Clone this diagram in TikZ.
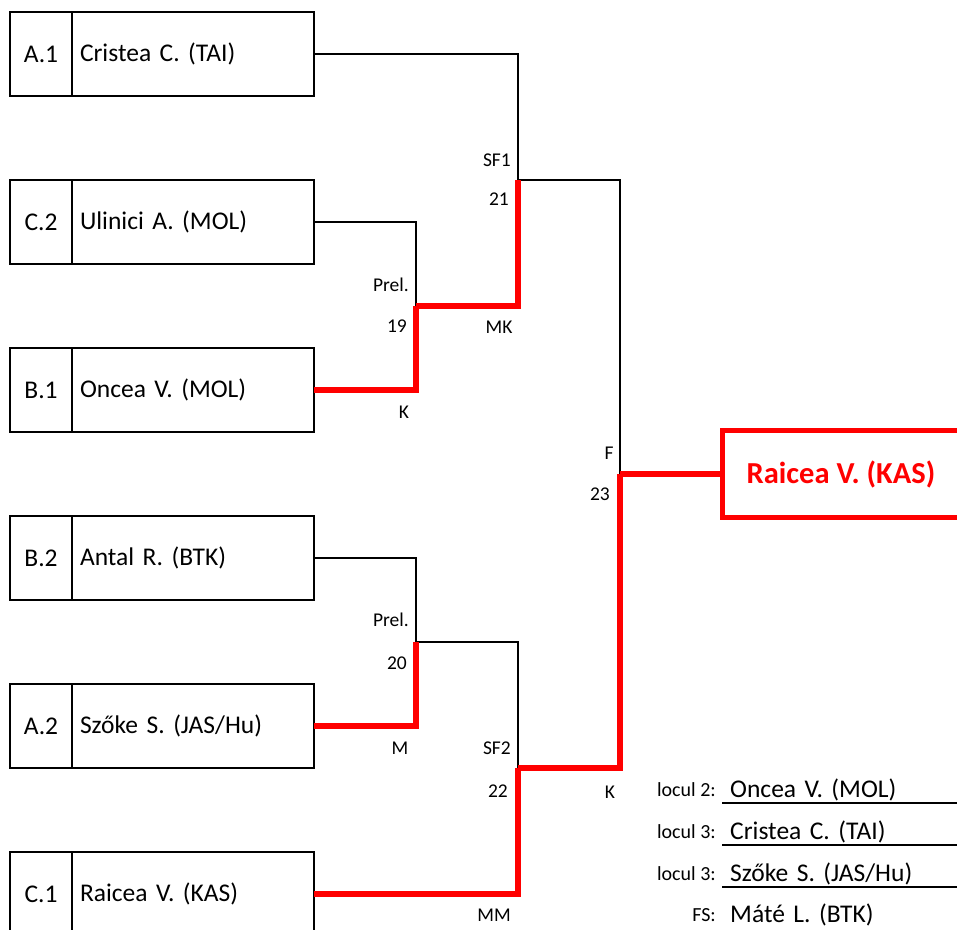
\documentclass[tikz,border=0pt]{standalone}
\usepackage{fontspec}
\setmainfont{Carlito}
\usepackage{xcolor}
\usepackage{tikz}
\usetikzlibrary{positioning}
\definecolor{winred}{RGB}{255,0,0}

\begin{document}
\begin{tikzpicture}[x=1pt, y=-1pt,
    seed/.style={draw, line width=1.6pt, outer sep=0pt, minimum width=62pt, minimum height=84pt, inner sep=0pt, font=\fontsize{25.5}{30}\selectfont},
    player/.style={draw, line width=1.6pt, outer sep=0pt, minimum height=84pt, text width=226pt, inner xsep=8pt, align=left, font=\fontsize{25.5}{30}\selectfont},
    lbl/.style={inner sep=0pt, font=\fontsize{19.5}{22}\selectfont},
    lost/.style={line width=1.4pt},
    won/.style={line width=5.5pt, winred},
    placed/.style={inner sep=0pt, font=\fontsize{20}{24}\selectfont},
    placename/.style={minimum width=235pt, inner xsep=8pt, anchor=west, text width=219pt, align=left, font=\fontsize{25.5}{30}\selectfont}]
      \useasboundingbox (0,0) rectangle (957,929);
      \clip (0,0) rectangle (957,929);

      % first round boxes
      \node (A1s) [seed] at (41,54) {A.1};
      \node (A1) [player, right=0pt of A1s] {Cristea C. (TAI)};
      \node (C2s) [seed] at (41,222) {C.2};
      \node (C2) [player, right=0pt of C2s] {Ulinici A. (MOL)};
      \node (B1s) [seed] at (41,390) {B.1};
      \node (B1) [player, right=0pt of B1s] {Oncea V. (MOL)};
      \node (B2s) [seed] at (41,558) {B.2};
      \node (B2) [player, right=0pt of B2s] {Antal R. (BTK)};
      \node (A2s) [seed] at (41,726) {A.2};
      \node (A2) [player, right=0pt of A2s] {Sz\H{o}ke S. (JAS/Hu)};
      \node (C1s) [seed] at (41,894) {C.1};
      \node (C1) [player, right=0pt of C1s] {Raicea V. (KAS)};

      % winner
      \node (Win) [draw=winred, line width=5pt, outer sep=0pt, minimum width=238pt, minimum height=87pt, text=winred, font=\fontsize{30.5}{34}\selectfont\bfseries] at (841,474) {Raicea V. (KAS)};

      % match points
      \coordinate (pre1) at (416,306);
      \coordinate (pre2) at (416,642);
      \coordinate (sf1) at (518,180);
      \coordinate (sf2) at (518,768);
      \coordinate (fin) at (620,474);

      \draw [lost] (C2.east) -| (pre1);
      \draw [lost] (B2.east) -| (pre2);
      \draw [lost] (A1.east) -| (sf1);
      \draw [lost] (pre2) -| (sf2);
      \draw [lost] (sf1) -| (fin);

      \draw [won] (B1.east) -| (pre1);
      \draw [won] (pre1) -| (sf1);
      \draw [won] (A2.east) -| (pre2);
      \draw [won] (C1.east) -| (sf2);
      \draw [won] (sf2) -| (fin);
      \draw [won] (fin) -- (Win.west);

      % labels
      \node (lSF1) [lbl, anchor=east] at (511,160) {SF1};
      \node (l21) [lbl, anchor=east] at (509,199) {21};
      \node (lPre1) [lbl, anchor=east] at (409,285) {Prel.};
      \node (l19) [lbl, anchor=east] at (407,326) {19};
      \node (lMK) [lbl] at (499,327) {MK};
      \node (lK1) [lbl] at (404,412) {K};
      \node (lF) [lbl] at (609,453) {F};
      \node (l23) [lbl, anchor=east] at (610,494) {23};
      \node (lPre2) [lbl, anchor=east] at (409,620) {Prel.};
      \node (l20) [lbl, anchor=east] at (407,663) {20};
      \node (lM) [lbl] at (400,748) {M};
      \node (lSF2) [lbl, anchor=east] at (511,748) {SF2};
      \node (l22) [lbl, anchor=east] at (508,791) {22};
      \node (lK2) [lbl] at (610,792) {K};
      \node (lMM) [lbl] at (494,915) {MM};

      % placings
      \node (p2) [placename] at (722,790) {Oncea V. (MOL)};
      \node (p3a) [placename] at (722,832) {Cristea C. (TAI)};
      \node (p3b) [placename] at (722,874) {Sz\H{o}ke S. (JAS/Hu)};
      \node (pfs) [placename] at (722,915) {M\'at\'e L. (BTK)};
      \node (t2) [placed, anchor=east] at (716,790) {locul 2:};
      \node (t3a) [placed, anchor=east] at (716,832) {locul 3:};
      \node (t3b) [placed, anchor=east] at (716,874) {locul 3:};
      \node (tfs) [placed, anchor=east] at (716,915) {FS:};
      \coordinate (r2a) at (722,803);
      \coordinate (r2b) at (957,803);
      \coordinate (r3a) at (722,845);
      \coordinate (r3b) at (957,845);
      \coordinate (r4a) at (722,887);
      \coordinate (r4b) at (957,887);
      \draw [line width=1.8pt] (r2a) -- (r2b);
      \draw [line width=1.8pt] (r3a) -- (r3b);
      \draw [line width=1.8pt] (r4a) -- (r4b);
    \end{tikzpicture}
\end{document}
